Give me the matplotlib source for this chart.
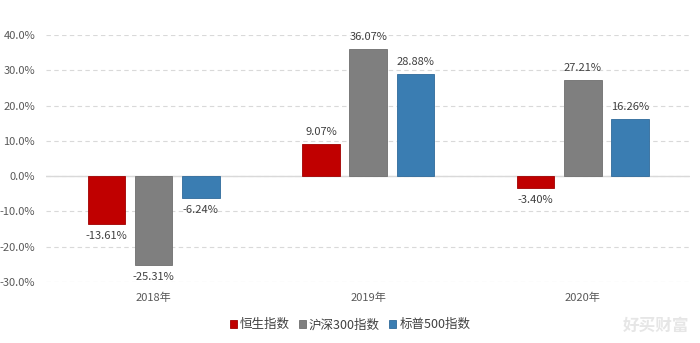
import matplotlib
matplotlib.use("Agg")
import matplotlib.pyplot as plt
import numpy as np

plt.rcParams['font.family'] = ['Noto Sans CJK SC', 'DejaVu Sans']

years = ['2018年', '2019年', '2020年']
series_names = ['恒生指数', '沪深300指数', '标普500指数']
hsi = [-13.61, 9.07, -3.40]
csi300 = [-25.31, 36.07, 27.21]
sp500 = [-6.24, 28.88, 16.26]
colors = ['#C00000', '#7F7F7F', '#3A7DB2']
edges = ['#A00000', '#6F6F6F', '#2F6A9A']

fig = plt.figure(figsize=(7, 3.43), dpi=100)
ax = fig.add_axes([0.066, 0.178, 0.92, 0.72])

x = np.arange(len(years))
width = 0.175
step = 0.22
for i, (vals, name) in enumerate(zip([hsi, csi300, sp500], series_names)):
    pos = x + (i - 1) * step
    ax.bar(pos, vals, width, color=colors[i], edgecolor=edges[i], linewidth=0.6,
           label=name, zorder=3)
    for p, v in zip(pos, vals):
        if v >= 0:
            ax.text(p, v + 2.0, f'{v:.2f}%', ha='center', va='bottom',
                    fontsize=8, color='#404040')
        else:
            ax.text(p, v - 2.0, f'{v:.2f}%', ha='center', va='top',
                    fontsize=8, color='#404040')

ax.set_xlim(-0.5, 2.5)
ax.set_ylim(-30, 40)
ax.set_yticks(np.arange(-30, 41, 10))
ax.set_yticklabels([f'{t:.1f}%' for t in np.arange(-30, 41, 10)])
ax.set_xticks(x)
ax.set_xticklabels(years)
ax.tick_params(axis='both', length=0, labelsize=8, labelcolor='#595959')
ax.tick_params(axis='x', pad=8)
ax.tick_params(axis='y', pad=8)

ax.yaxis.grid(True, linestyle=(0, (4, 3)), color='#D9D9D9', linewidth=0.8, zorder=0)
ax.axhline(0, color='#D9D9D9', linewidth=1.0, zorder=1)
for s in ax.spines.values():
    s.set_visible(False)

leg = fig.legend(loc='center', bbox_to_anchor=(0.5, 0.053), ncol=3, frameon=False,
                 fontsize=9, handlelength=0.55, handleheight=0.55, handletextpad=0.25,
                 columnspacing=0.75)
for t in leg.get_texts():
    t.set_color('#404040')

# watermark in the lower right corner
fig.text(0.985, 0.05, '好买财富', ha='right', va='center', fontsize=12,
         color='#E6E6E6', fontweight='bold')

fig.savefig('out.png', dpi=100)
